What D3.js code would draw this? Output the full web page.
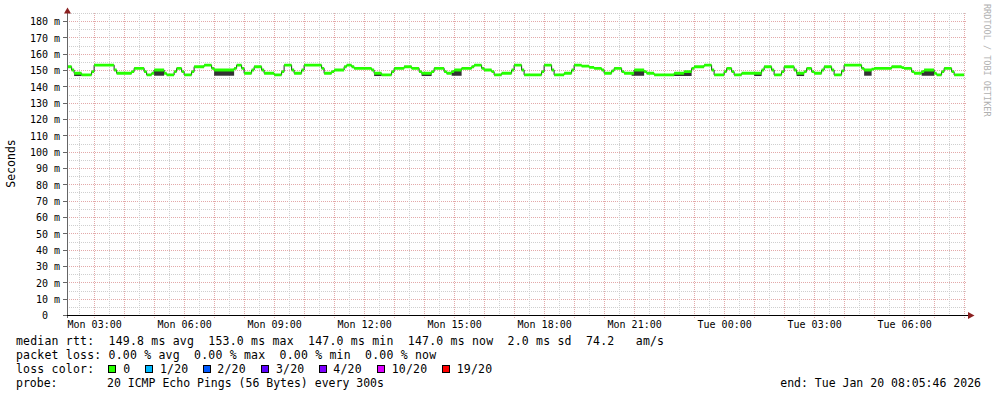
<!DOCTYPE html>
<html><head><meta charset="utf-8">
<script src="https://cdn.jsdelivr.net/npm/d3@7"></script>
<style>
body{margin:0;background:#fff}
svg{display:block}
text{font-family:"DejaVu Sans Mono",monospace;fill:#000;white-space:pre}
</style></head><body>
<svg id="c" width="997" height="397"></svg>
<script>
// ---------------- data ----------------
const chartStart = new Date(2026, 0, 19, 2, 5, 46);
const chartEnd   = new Date(2026, 0, 20, 8, 5, 46);
// median rtt steps: minutes since Mon 00:00 and value in ms
const stepMinutes = [125,135,140,155,175,180,220,225,255,260,280,285,295,300,320,325,340,345,355,360,375,380,400,415,420,460,465,475,480,495,500,515,520,540,555,560,575,580,595,600,635,640,655,660,680,685,695,700,735,740,755,775,780,800,815,830,835,855,860,880,885,895,900,915,935,940,955,960,975,980,995,1015,1020,1035,1040,1075,1080,1095,1100,1120,1135,1140,1155,1170,1180,1195,1200,1215,1220,1235,1240,1260,1280,1285,1300,1340,1360,1375,1380,1400,1415,1420,1440,1445,1455,1460,1475,1515,1520,1535,1540,1555,1560,1580,1585,1600,1605,1615,1620,1635,1640,1655,1660,1675,1680,1715,1720,1735,1740,1775,1795,1800,1815,1820,1835,1840,1860,1865,1875,1880,1895,1900];
const stepMedians = [152,150,148,147,149,153,150,148,149,151,149,147,148,150,148,147,149,151,149,147,149,152,153,151,150,151,153,151,148,150,152,150,148,147,149,153,150,148,150,153,151,148,149,150,152,153,152,151,150,148,147,149,151,152,151,149,148,149,151,149,148,149,150,151,152,153,151,150,149,147,148,150,153,150,147,149,153,150,147,148,150,153,152.4,151.6,151,150,148,149.5,151,149,148,150,149,148,147,148,149,151,152,153,150,147,149,151,149,147,148,150,152,150,147,149,152,150,148,149,151,149,148,150,152,150,147,149.5,153,151,150,150.5,151,152,151.5,151,149,148,149,150,148,147,149,151,149,147];
const dataEndMinute = 1920;
// smoke (ping spread) blocks
const smokeFrom = [140,300,420,740,835,895,1255,1340,1500,1585,1720,1835];
const smokeTo   = [155,320,460,755,855,915,1280,1375,1515,1600,1735,1860];
const smokeLow  = [146.3,146.5,146.5,146.3,146.3,146.5,146.5,146.3,146.3,146.3,146.5,146.5];
// axes
const yTickValues = [0,10,20,30,40,50,60,70,80,90,100,110,120,130,140,150,160,170,180];
const yTickLabels = ["0  ","10 m","20 m","30 m","40 m","50 m","60 m","70 m","80 m","90 m","100 m","110 m","120 m","130 m","140 m","150 m","160 m","170 m","180 m"];
const xTickLabels = ["Mon 03:00","Mon 06:00","Mon 09:00","Mon 12:00","Mon 15:00","Mon 18:00","Mon 21:00","Tue 00:00","Tue 03:00","Tue 06:00"];
// legend
const lossLabels = ["0","1/20","2/20","3/20","4/20","10/20","19/20"];
const lossColors = ["#26ff00","#00b8ff","#0059ff","#5e00ff","#7e00ff","#dd00ff","#ff0000"];
const statLine1 = "median rtt:  149.8 ms avg  153.0 ms max  147.0 ms min  147.0 ms now  2.0 ms sd  74.2   am/s";
const statLine2 = "packet loss: 0.00 % avg  0.00 % max  0.00 % min  0.00 % now";
const probeText = "20 ICMP Echo Pings (56 Bytes) every 300s";
const endText = "end: Tue Jan 20 08:05:46 2026";

// ---------------- drawing ----------------
const svg = d3.select("#c");
const L = 67, R = 967, B = 315, T = 13;
const x = d3.scaleTime().domain([chartStart, chartEnd]).range([L, R]);
const y = d3.scaleLinear().domain([0, 180]).range([B, 21]);
const toDate = m => new Date(2026, 0, 19, 0, m);
const cr = v => Math.round(v) + 0.5;

svg.append("rect").attr("width", 997).attr("height", 397).attr("fill", "#fff");

const grid = svg.append("g");
// horizontal grid
d3.range(5, 186, 5).forEach(v => {
  const major = v % 10 === 0;
  grid.append("line").attr("x1", L).attr("x2", R).attr("y1", cr(y(v))).attr("y2", cr(y(v)))
    .attr("stroke", major ? "#e3a9a9" : "#cfcfcf").attr("stroke-dasharray", "1,1");
});
// vertical grid
d3.timeMinute.every(30).range(chartStart, chartEnd).forEach(d => {
  const major = d.getMinutes() === 0;
  grid.append("line").attr("x1", cr(x(d))).attr("x2", cr(x(d))).attr("y1", T).attr("y2", major ? B + 3 : B)
    .attr("stroke", major ? "#e3a9a9" : "#cfcfcf").attr("stroke-dasharray", "1,1");
});

// data
const pts = stepMinutes.map((m, i) => ({ d: toDate(m), v: stepMedians[i] }));
pts.push({ d: toDate(dataEndMinute), v: stepMedians[stepMedians.length - 1] });
function medianAt(m) {
  let v = stepMedians[0];
  for (let i = 0; i < stepMinutes.length; i++) if (stepMinutes[i] <= m) v = stepMedians[i];
  return v;
}
svg.append("clipPath").attr("id", "clip").append("rect").attr("x", L).attr("y", 0).attr("width", R - L).attr("height", B);
const plot = svg.append("g").attr("clip-path", "url(#clip)");

// smoke
smokeFrom.forEach((f, i) => {
  const t = smokeTo[i];
  const sp = [{ m: f, v: medianAt(f) }];
  stepMinutes.forEach((m, j) => { if (m > f && m < t) sp.push({ m, v: stepMedians[j] }); });
  sp.push({ m: t, v: sp[sp.length - 1].v });
  plot.append("path").datum(sp)
    .attr("d", d3.area().curve(d3.curveStepAfter).x(p => x(toDate(p.m))).y0(y(smokeLow[i])).y1(p => y(p.v)))
    .attr("fill", "#333");
});
// median connector line
plot.append("path").datum(pts)
  .attr("d", d3.line().curve(d3.curveStepAfter).x(p => x(p.d)).y(p => y(p.v)))
  .attr("fill", "none").attr("stroke", "#222").attr("stroke-width", 1);
// median band coloured by loss
plot.append("path").datum(pts)
  .attr("d", d3.area().curve(d3.curveStepAfter).x(p => x(p.d)).y0(p => y(p.v) + 1.4).y1(p => y(p.v) - 1.4))
  .attr("fill", lossColors[0]);

// axes lines
svg.append("line").attr("x1", 67.5).attr("x2", 67.5).attr("y1", B + 3).attr("y2", 11).attr("stroke", "#666");
svg.append("path").attr("d", "M64,13.5L71,13.5L67.5,7.5Z").attr("fill", "#8b2020");
svg.append("line").attr("x1", 63).attr("x2", 969).attr("y1", B + 0.5).attr("y2", B + 0.5).attr("stroke", "#000");
svg.append("path").attr("d", "M968,312L968,319L974.5,315.5Z").attr("fill", "#8b2020");
yTickValues.forEach(v => {
  svg.append("line").attr("x1", 63).attr("x2", 67).attr("y1", cr(y(v))).attr("y2", cr(y(v))).attr("stroke", "#666");
});

// y axis labels
const yAxis = d3.axisLeft(y).tickValues(yTickValues).tickFormat((d, i) => yTickLabels[i]).tickSize(0).tickPadding(0);
const gy = svg.append("g").attr("transform", "translate(60,0)").call(yAxis);
gy.select(".domain").remove();
gy.selectAll("text").attr("font-size", "10px").attr("font-family", "DejaVu Sans Mono").attr("dy", "0.37em").style("white-space", "pre").attr("fill", "#000");

// x axis labels
const xTicks = d3.timeHour.every(3).range(chartStart, chartEnd);
const xAxis = d3.axisBottom(x).tickValues(xTicks).tickFormat((d, i) => xTickLabels[i]).tickSize(0).tickPadding(6);
const gx = svg.append("g").attr("transform", `translate(0,${B})`).call(xAxis);
gx.select(".domain").remove();
gx.selectAll("text").attr("font-size", "10px").attr("font-family", "DejaVu Sans Mono").attr("fill", "#000");

// axis title
svg.append("text").attr("transform", "translate(15,163.5) rotate(-90)").attr("text-anchor", "middle")
  .attr("font-size", "11.5px").text("Seconds");
// watermark
svg.append("text").attr("transform", "translate(984,4) rotate(90)").attr("font-size", "8.5px")
  .style("fill", "#b0b0b0").text("RRDTOOL / TOBI OETIKER");

// legend
const lg = svg.append("g").attr("font-size", "11.5px");
lg.append("text").attr("x", 16).attr("y", 345).attr("letter-spacing", "0.2px").text(statLine1);
lg.append("text").attr("x", 16).attr("y", 359).attr("letter-spacing", "0.2px").text(statLine2);
lg.append("text").attr("x", 16).attr("y", 373.3).attr("letter-spacing", "0.2px").text("loss color:");
const boxX = [108.5, 145.5, 203.5, 261.5, 319.5, 377.5, 442.5];
const labX = [123.3, 160, 217.3, 276, 333.3, 391.7, 456.7];
lossLabels.forEach((l, i) => {
  lg.append("rect").attr("x", boxX[i]).attr("y", 365.5).attr("width", 7).attr("height", 7)
    .attr("fill", lossColors[i]).attr("stroke", "#000");
  lg.append("text").attr("x", labX[i]).attr("y", 373.3).attr("letter-spacing", "0.2px").text(l);
});
lg.append("text").attr("x", 16).attr("y", 386.7).text("probe:");
lg.append("text").attr("x", 107).attr("y", 386.7).text(probeText);
lg.append("text").attr("x", 981).attr("y", 386.7).attr("text-anchor", "end").text(endText);
</script>
</body></html>
